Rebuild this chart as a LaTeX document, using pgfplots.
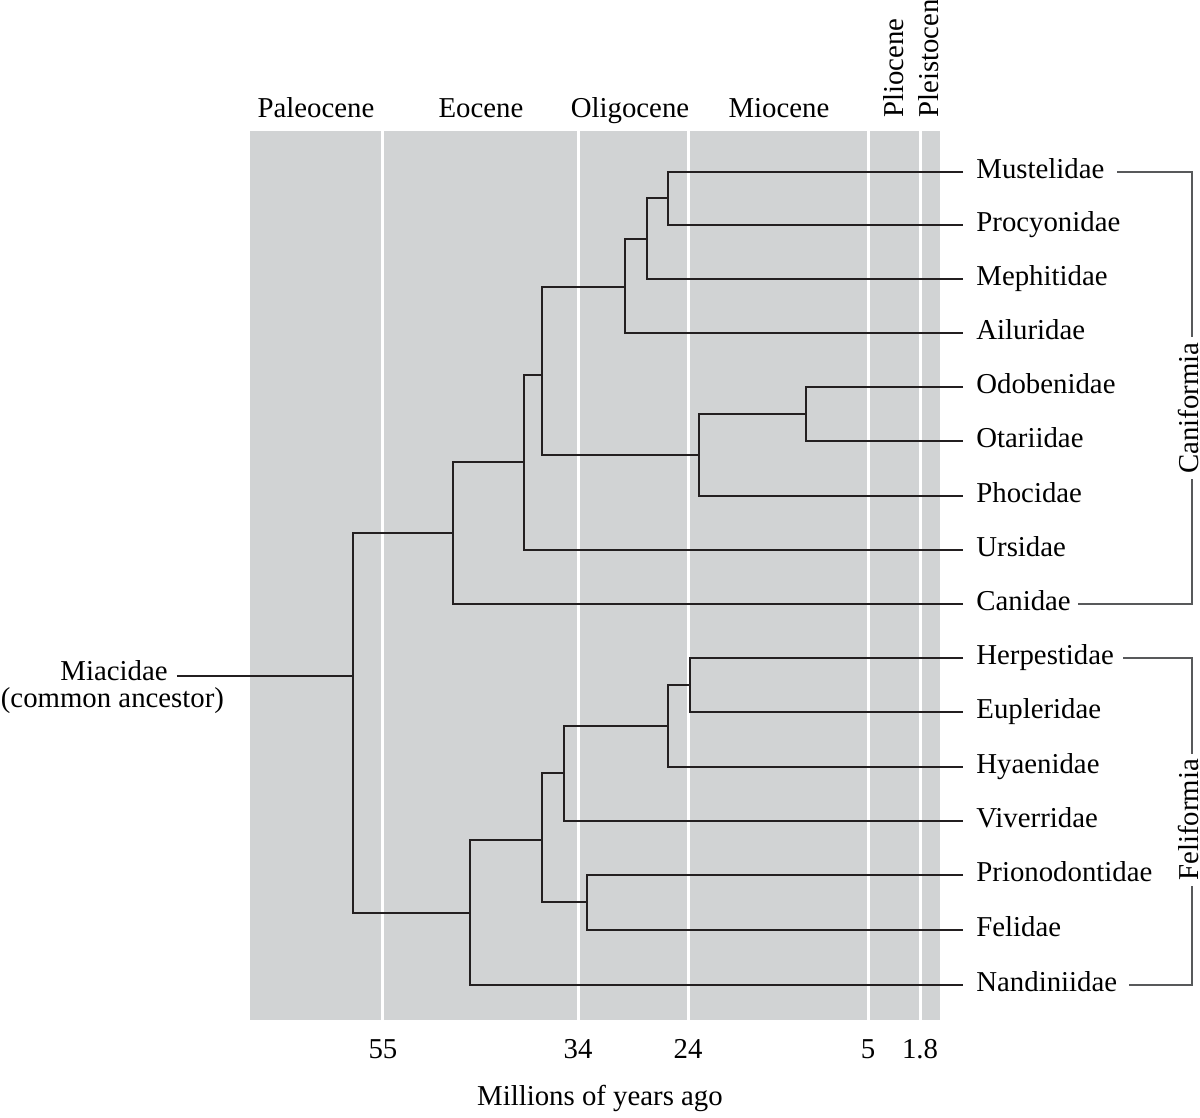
\documentclass[border=0pt]{standalone}
\usepackage{fontspec}
\setmainfont{Liberation Serif}
\usepackage{pgfplots}
\pgfplotsset{compat=1.18}
\definecolor{bg}{RGB}{209,211,212}
\definecolor{ink}{RGB}{35,31,32}
\definecolor{brk}{RGB}{88,89,91}
\begin{document}
\fontsize{14.4}{17}\selectfont
\begin{tikzpicture}
\begin{axis}[
  scale only axis, width=345pt, height=444.5pt,
  xmin=250, xmax=940, ymin=98, ymax=987,
  clip=false,
  axis background/.style={fill=bg},
  axis line style={draw=none},
  major tick length=0pt,
  ytick=\empty,
  xtick={383,578,688,868,920},
  xticklabels={55,34,24,5,1.8},
  xticklabel style={anchor=base, yshift=-19.5pt, inner sep=0pt},
  /pgf/number format/assume math mode=true,
]
% epoch boundaries
\addplot[white, line width=1.5pt] coordinates {(383,98)(383,987)};
\addplot[white, line width=1.5pt] coordinates {(578,98)(578,987)};
\addplot[white, line width=1.5pt] coordinates {(688,98)(688,987)};
\addplot[white, line width=1.5pt] coordinates {(868,98)(868,987)};
\addplot[white, line width=1.5pt] coordinates {(920,98)(920,987)};
% tree
\addplot[ink, line width=1pt] coordinates {(963,946)(668,946)(668,893)(963,893)};
\addplot[ink, line width=1pt] coordinates {(668,919.5)(647,919.5)(647,839)(963,839)};
\addplot[ink, line width=1pt] coordinates {(647,879)(625,879)(625,785)(963,785)};
\addplot[ink, line width=1pt] coordinates {(963,731)(806,731)(806,677)(963,677)};
\addplot[ink, line width=1pt] coordinates {(806,704)(699,704)(699,622)(963,622)};
\addplot[ink, line width=1pt] coordinates {(625,831)(542,831)(542,663)(699,663)};
\addplot[ink, line width=1pt] coordinates {(542,743)(523.7,743)(523.7,568)(963,568)};
\addplot[ink, line width=1pt] coordinates {(523.7,655.5)(453.3,655.5)(453.3,514)(963,514)};
\addplot[ink, line width=1pt] coordinates {(963,460)(689.7,460)(689.7,406)(963,406)};
\addplot[ink, line width=1pt] coordinates {(689.7,433)(668,433)(668,351)(963,351)};
\addplot[ink, line width=1pt] coordinates {(668,392)(564.3,392)(564.3,297)(963,297)};
\addplot[ink, line width=1pt] coordinates {(963,243)(587,243)(587,188)(963,188)};
\addplot[ink, line width=1pt] coordinates {(564.3,344.5)(542.3,344.5)(542.3,216)(587,216)};
\addplot[ink, line width=1pt] coordinates {(542.3,278)(470.3,278)(470.3,133)(963,133)};
\addplot[ink, line width=1pt] coordinates {(453.3,585)(353.3,585)(353.3,205)(470.3,205)};
\addplot[ink, line width=1pt] coordinates {(177,442)(353.3,442)};
% brackets
\addplot[brk, line width=0.6pt] coordinates {(1117,946)(1192,946)(1192,514)(1078,514)};
\addplot[brk, line width=0.6pt] coordinates {(1123,460)(1192,460)(1192,133)(1129,133)};
% epoch labels
\node[anchor=base] at (axis cs:316,1000) {Paleocene};
\node[anchor=base] at (axis cs:481,1000) {Eocene};
\node[anchor=base] at (axis cs:630,1000) {Oligocene};
\node[anchor=base] at (axis cs:779,1000) {Miocene};
\node[rotate=90, anchor=base west, inner sep=0pt] at (axis cs:903,1000) {Pliocene};
\node[rotate=90, anchor=base west, inner sep=0pt] at (axis cs:938,1000) {Pleistocene};
% leaf labels
\begin{scope}[every node/.style={anchor=base west, inner sep=0pt}]
\node at (axis cs:976,939) {Mustelidae};
\node at (axis cs:976,886) {Procyonidae};
\node at (axis cs:976,832) {Mephitidae};
\node at (axis cs:976,778) {Ailuridae};
\node at (axis cs:976,724) {Odobenidae};
\node at (axis cs:976,670) {Otariidae};
\node at (axis cs:976,615) {Phocidae};
\node at (axis cs:976,561) {Ursidae};
\node at (axis cs:976,507) {Canidae};
\node at (axis cs:976,453) {Herpestidae};
\node at (axis cs:976,399) {Eupleridae};
\node at (axis cs:976,344) {Hyaenidae};
\node at (axis cs:976,290) {Viverridae};
\node at (axis cs:976,236) {Prionodontidae};
\node at (axis cs:976,181) {Felidae};
\node at (axis cs:976,126) {Nandiniidae};
\end{scope}
% group labels
\node[rotate=90, fill=white, inner xsep=2.5pt, inner ysep=1pt, anchor=center] at (axis cs:1188,710) {Caniformia};
\node[rotate=90, fill=white, inner xsep=2.5pt, inner ysep=1pt, anchor=center] at (axis cs:1188,298) {Feliformia};
% ancestor
\node[anchor=base, inner sep=0pt] at (axis cs:114,437) {Miacidae};
\node[anchor=base west, inner sep=0pt] at (axis cs:0.5,410) {(common ancestor)};
% axis title
\node[anchor=base, inner sep=0pt] at (axis cs:600,12) {Millions of years ago};
\coordinate (bbl) at (axis cs:0,0);
\coordinate (btr) at (axis cs:1200,1118);
\end{axis}
\pgfresetboundingbox
\path[use as bounding box] (bbl) rectangle (btr);
\end{tikzpicture}
\end{document}
